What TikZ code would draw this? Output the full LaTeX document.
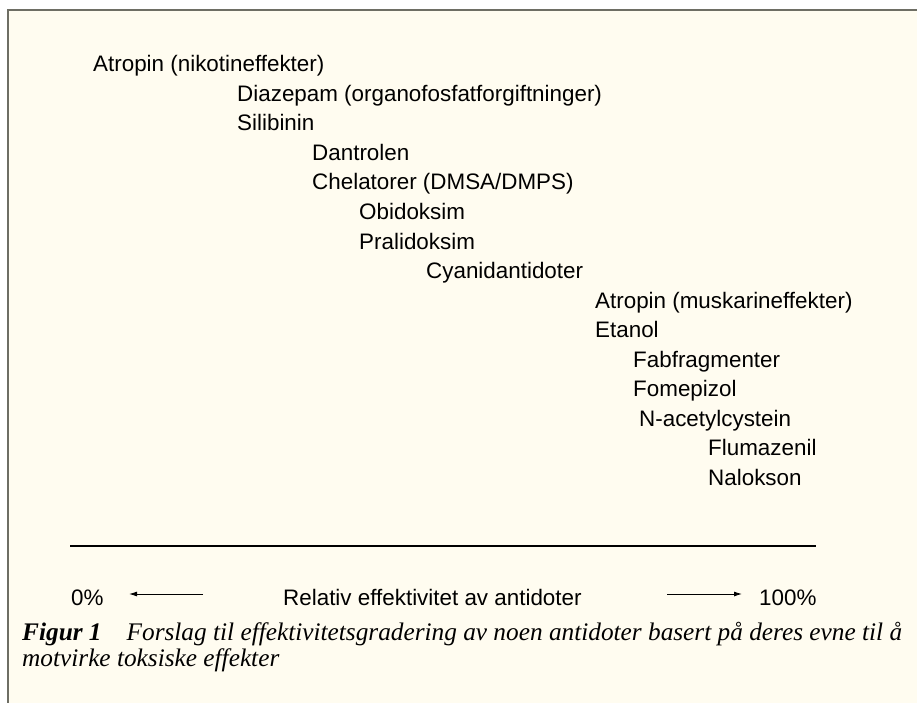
\documentclass[tikz,border=0pt]{standalone}
\usepackage{fontspec}
\setmainfont{Liberation Sans}
\newfontfamily\capfont{Liberation Serif}
\usetikzlibrary{arrows.meta}

\definecolor{cream}{RGB}{255,252,240}
\definecolor{framegray}{RGB}{110,110,100}

\tikzset{
  drug/.style={anchor=base west, inner sep=0pt, font=\fontsize{22.4}{26}\selectfont},
  caption/.style={anchor=base west, inner sep=0pt, font=\capfont\itshape\fontsize{25.3}{29}\selectfont},
  scalearrow/.style={line width=0.9pt, -{Latex[length=8pt,width=5pt]}},
}

\begin{document}
\begin{tikzpicture}[x=1pt, y=-1pt]
  \useasboundingbox (0,0) rectangle (917,703);
  % bakgrunn og ramme
  \fill[cream] (8,10) rectangle (917,703);
  \draw[framegray, line width=1.5pt] (8,703) -- (8,10) -- (917,10);

  % antidoter, fra lav til hoy effektivitet
  \node[drug] (atrN)  at (93,72)    {Atropin (nikotineffekter)};
  \node[drug] (diaz)  at (237,101.5) {Diazepam (organofosfatforgiftninger)};
  \node[drug] (sili)  at (237,131)  {Silibinin};
  \node[drug] (dant)  at (312,160.5) {Dantrolen};
  \node[drug] (chel)  at (312,190)  {Chelatorer (DMSA/DMPS)};
  \node[drug] (obid)  at (359,219.5) {Obidoksim};
  \node[drug] (pral)  at (359,249)  {Pralidoksim};
  \node[drug] (cyan)  at (426,278.5) {Cyanidantidoter};
  \node[drug] (atrM)  at (595,308)  {Atropin (muskarineffekter)};
  \node[drug] (etan)  at (595,337.5) {Etanol};
  \node[drug] (fab)   at (633,367)  {Fabfragmenter};
  \node[drug] (fome)  at (633,396.5) {Fomepizol};
  \node[drug] (nac)   at (639,426)  {N-acetylcystein};
  \node[drug] (flum)  at (708,455.5) {Flumazenil};
  \node[drug] (nalo)  at (708,485)  {Nalokson};

  % skillelinje
  \coordinate (ruleL) at (70,546);
  \coordinate (ruleR) at (816,546);
  \draw[line width=1.1pt] (ruleL) -- (ruleR);

  % skala
  \node[drug] (zero) at (71,605)  {0\%};
  \node[drug] (axis) at (283,605) {Relativ effektivitet av antidoter};
  \node[drug] (full) at (759,605) {100\%};
  \coordinate (arrLa) at (203,594);
  \coordinate (arrLb) at (129,594);
  \coordinate (arrRa) at (667,594);
  \coordinate (arrRb) at (742,594);
  \draw[scalearrow] (arrLa) -- (arrLb);
  \draw[scalearrow] (arrRa) -- (arrRb);

  % figurtekst
  \node[caption] (cap1) at (22,640) {\textbf{Figur 1}\hspace{25pt}Forslag til effektivitetsgradering av noen antidoter basert på deres evne til å};
  \node[caption] (cap2) at (22,666) {motvirke toksiske effekter};
\end{tikzpicture}
\end{document}
